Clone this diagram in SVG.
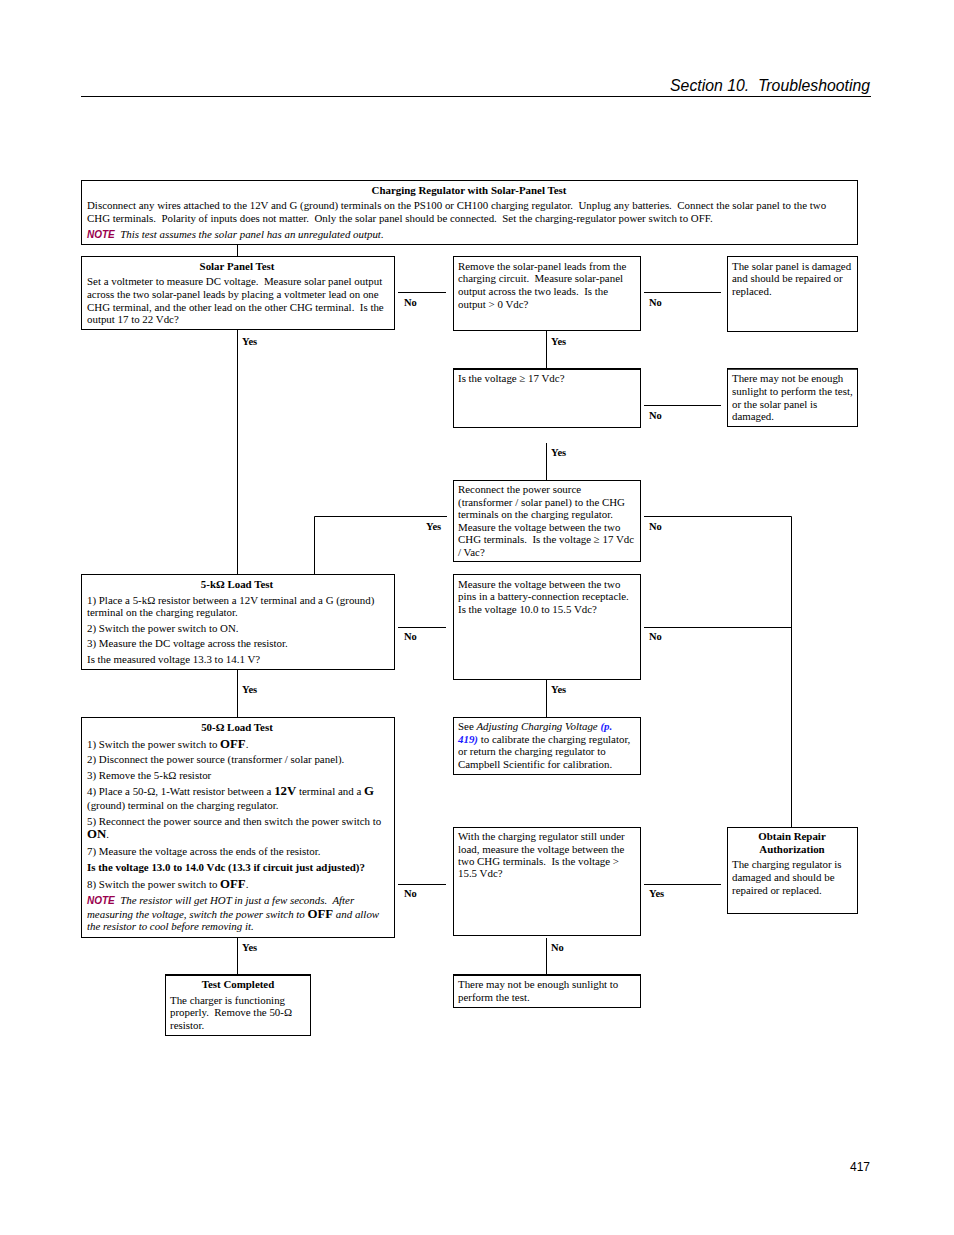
<svg xmlns="http://www.w3.org/2000/svg" width="954" height="1235" viewBox="0 0 954 1235" xml:space="preserve">
<style>
text{font-family:"Liberation Serif","Times New Roman",serif;font-size:10.9px;fill:#000;white-space:pre}
.b{font-weight:bold}
.c{text-anchor:middle}
.i{font-style:italic}
.lbl{font-weight:bold;font-size:10.5px}
.box{fill:#fff;stroke:#000;stroke-width:1}
.ln{stroke:#000;stroke-width:1;fill:none}
.note{font-family:"Liberation Sans",Arial,sans-serif;font-weight:bold;font-style:italic;fill:#99004d;font-size:10px}
.big{font-weight:bold;font-size:12.8px}
.hdr{font-family:"Liberation Sans",Arial,sans-serif;font-style:italic;font-size:15.8px}
.pg{font-family:"Liberation Sans",Arial,sans-serif;font-size:12px}
.link{fill:#1a1aff;font-weight:bold;font-style:italic}
</style>
<rect width="954" height="1235" fill="#fff"/>
<g id="header">
<text class="hdr" x="870" y="91" text-anchor="end">Section 10.  Troubleshooting</text>
<line x1="81" y1="96.5" x2="871" y2="96.5" stroke="#000" stroke-width="1"/>
</g>
<g id="connectors">
<path class="ln" d="M237.5 244 V256"/>
<path class="ln" d="M398 292.5 H446"/>
<path class="ln" d="M644 292.5 H721"/>
<path class="ln" d="M546.5 330 V368"/>
<path class="ln" d="M644 405.5 H721"/>
<path class="ln" d="M546.5 443 V480"/>
<path class="ln" d="M237.5 329 V574"/>
<path class="ln" d="M447 516.5 H314.5 V574"/>
<path class="ln" d="M644 516.5 H791.5 V827"/>
<path class="ln" d="M398 627.5 H446" stroke-width="1.5"/>
<path class="ln" d="M644 627.5 H791" stroke-width="1.5"/>
<path class="ln" d="M546.5 679 V717"/>
<path class="ln" d="M237.5 669 V717"/>
<path class="ln" d="M398 884.5 H446"/>
<path class="ln" d="M644 884.5 H721"/>
<path class="ln" d="M546.5 938 V974"/>
<path class="ln" d="M237.5 937 V974"/>
<text class="lbl" x="404" y="306">No</text>
<text class="lbl" x="649" y="306">No</text>
<text class="lbl" x="551" y="345">Yes</text>
<text class="lbl" x="242" y="345">Yes</text>
<text class="lbl" x="649" y="419">No</text>
<text class="lbl" x="551" y="456">Yes</text>
<text class="lbl" x="426" y="530">Yes</text>
<text class="lbl" x="649" y="530">No</text>
<text class="lbl" x="404" y="640">No</text>
<text class="lbl" x="649" y="640">No</text>
<text class="lbl" x="551" y="693">Yes</text>
<text class="lbl" x="242" y="693">Yes</text>
<text class="lbl" x="404" y="897">No</text>
<text class="lbl" x="649" y="897">Yes</text>
<text class="lbl" x="551" y="951">No</text>
<text class="lbl" x="242" y="951">Yes</text>
</g>
<g id="n-intro">
<rect class="box" x="81.5" y="180.5" width="776" height="64"/>
<text class="b c" x="469" y="194">Charging Regulator with Solar-Panel Test</text>
<text x="87" y="209">Disconnect any wires attached to the 12V and G (ground) terminals on the PS100 or CH100 charging regulator.  Unplug any batteries.  Connect the solar panel to the two</text>
<text x="87" y="222">CHG terminals.  Polarity of inputs does not matter.  Only the solar panel should be connected.  Set the charging-regulator power switch to OFF.</text>
<text x="87" y="238"><tspan class="note">NOTE</tspan><tspan class="i">  This test assumes the solar panel has an unregulated output.</tspan></text>
</g>
<g id="n-solar">
<rect class="box" x="81.5" y="256.5" width="313" height="73"/>
<text class="b c" x="237" y="270">Solar Panel Test</text>
<text x="87" y="285">Set a voltmeter to measure DC voltage.  Measure solar panel output</text>
<text x="87" y="298">across the two solar-panel leads by placing a voltmeter lead on one</text>
<text x="87" y="311">CHG terminal, and the other lead on the other CHG terminal.  Is the</text>
<text x="87" y="323">output 17 to 22 Vdc?</text>
</g>
<g id="n-remove">
<rect class="box" x="453.5" y="256.5" width="187" height="74"/>
<text x="458" y="270">Remove the solar-panel leads from the</text>
<text x="458" y="282">charging circuit.  Measure solar-panel</text>
<text x="458" y="295">output across the two leads.  Is the</text>
<text x="458" y="308">output &gt; 0 Vdc?</text>
</g>
<g id="n-damaged">
<rect class="box" x="727.5" y="256.5" width="130" height="75"/>
<text x="732" y="270">The solar panel is damaged</text>
<text x="732" y="282">and should be repaired or</text>
<text x="732" y="295">replaced.</text>
</g>
<g id="n-ge17">
<rect class="box" x="453.5" y="368.5" width="187" height="59"/>
<line x1="453" y1="369" x2="641" y2="369" stroke="#000" stroke-width="2"/>
<text x="458" y="382">Is the voltage ≥ 17 Vdc?</text>
</g>
<g id="n-sunlight1">
<rect class="box" x="727.5" y="368.5" width="130" height="58"/>
<line x1="727" y1="369" x2="858" y2="369" stroke="#000" stroke-width="1.5"/>
<text x="732" y="382">There may not be enough</text>
<text x="732" y="395">sunlight to perform the test,</text>
<text x="732" y="408">or the solar panel is</text>
<text x="732" y="420">damaged.</text>
</g>
<g id="n-reconnect">
<rect class="box" x="453.5" y="480.5" width="187" height="81"/>
<text x="458" y="493">Reconnect the power source</text>
<text x="458" y="506">(transformer / solar panel) to the CHG</text>
<text x="458" y="518">terminals on the charging regulator.</text>
<text x="458" y="531">Measure the voltage between the two</text>
<text x="458" y="543">CHG terminals.  Is the voltage ≥ 17 Vdc</text>
<text x="458" y="556">/ Vac?</text>
</g>
<g id="n-5k">
<rect class="box" x="81.5" y="574.5" width="313" height="95"/>
<text class="b c" x="237" y="588">5-kΩ Load Test</text>
<text x="87" y="604">1) Place a 5-kΩ resistor between a 12V terminal and a G (ground)</text>
<text x="87" y="616">terminal on the charging regulator.</text>
<text x="87" y="632">2) Switch the power switch to ON.</text>
<text x="87" y="647">3) Measure the DC voltage across the resistor.</text>
<text x="87" y="663">Is the measured voltage 13.3 to 14.1 V?</text>
</g>
<g id="n-measure">
<rect class="box" x="453.5" y="574.5" width="187" height="105"/>
<text x="458" y="588">Measure the voltage between the two</text>
<text x="458" y="600">pins in a battery-connection receptacle.</text>
<text x="458" y="613">Is the voltage 10.0 to 15.5 Vdc?</text>
</g>
<g id="n-adjust">
<rect class="box" x="453.5" y="717.5" width="187" height="57"/>
<text x="458" y="730">See <tspan class="i">Adjusting Charging Voltage </tspan><tspan class="link">(p.</tspan></text>
<text x="458" y="743"><tspan class="link">419)</tspan> to calibrate the charging regulator,</text>
<text x="458" y="755">or return the charging regulator to</text>
<text x="458" y="768">Campbell Scientific for calibration.</text>
</g>
<g id="n-50">
<rect class="box" x="81.5" y="717.5" width="313" height="220"/>
<text class="b c" x="237" y="731">50-Ω Load Test</text>
<text x="87" y="748">1) Switch the power switch to <tspan class="big">OFF</tspan>.</text>
<text x="87" y="763">2) Disconnect the power source (transformer / solar panel).</text>
<text x="87" y="779">3) Remove the 5-kΩ resistor</text>
<text x="87" y="795">4) Place a 50-Ω, 1-Watt resistor between a <tspan class="big">12V</tspan> terminal and a <tspan class="big">G</tspan></text>
<text x="87" y="809">(ground) terminal on the charging regulator.</text>
<text x="87" y="825">5) Reconnect the power source and then switch the power switch to</text>
<text x="87" y="838"><tspan class="big">ON</tspan>.</text>
<text x="87" y="855">7) Measure the voltage across the ends of the resistor.</text>
<text class="b" x="87" y="871">Is the voltage 13.0 to 14.0 Vdc (13.3 if circuit just adjusted)?</text>
<text x="87" y="888">8) Switch the power switch to <tspan class="big">OFF</tspan>.</text>
<text x="87" y="904"><tspan class="note">NOTE</tspan><tspan class="i">  The resistor will get HOT in just a few seconds.  After</tspan></text>
<text class="i" x="87" y="918">measuring the voltage, switch the power switch to <tspan class="big" font-style="normal">OFF</tspan> and allow</text>
<text class="i" x="87" y="930">the resistor to cool before removing it.</text>
</g>
<g id="n-underload">
<rect class="box" x="453.5" y="827.5" width="187" height="108"/>
<text x="458" y="840">With the charging regulator still under</text>
<text x="458" y="853">load, measure the voltage between the</text>
<text x="458" y="865">two CHG terminals.  Is the voltage &gt;</text>
<text x="458" y="877">15.5 Vdc?</text>
</g>
<g id="n-repair">
<rect class="box" x="727.5" y="827.5" width="130" height="86"/>
<text class="b c" x="792" y="840">Obtain Repair</text>
<text class="b c" x="792" y="853">Authorization</text>
<text x="732" y="868">The charging regulator is</text>
<text x="732" y="881">damaged and should be</text>
<text x="732" y="894">repaired or replaced.</text>
</g>
<g id="n-sunlight2">
<rect class="box" x="453.5" y="974.5" width="187" height="33"/>
<line x1="453" y1="975" x2="641" y2="975" stroke="#000" stroke-width="2"/>
<text x="458" y="988">There may not be enough sunlight to</text>
<text x="458" y="1001">perform the test.</text>
</g>
<g id="n-done">
<rect class="box" x="165.5" y="974.5" width="145" height="61"/>
<line x1="165" y1="975" x2="311" y2="975" stroke="#000" stroke-width="2"/>
<text class="b c" x="238" y="988">Test Completed</text>
<text x="170" y="1004">The charger is functioning</text>
<text x="170" y="1016">properly.  Remove the 50-Ω</text>
<text x="170" y="1029">resistor.</text>
</g>
<g id="footer">
<text class="pg" x="870" y="1171" text-anchor="end">417</text>
</g>
</svg>
